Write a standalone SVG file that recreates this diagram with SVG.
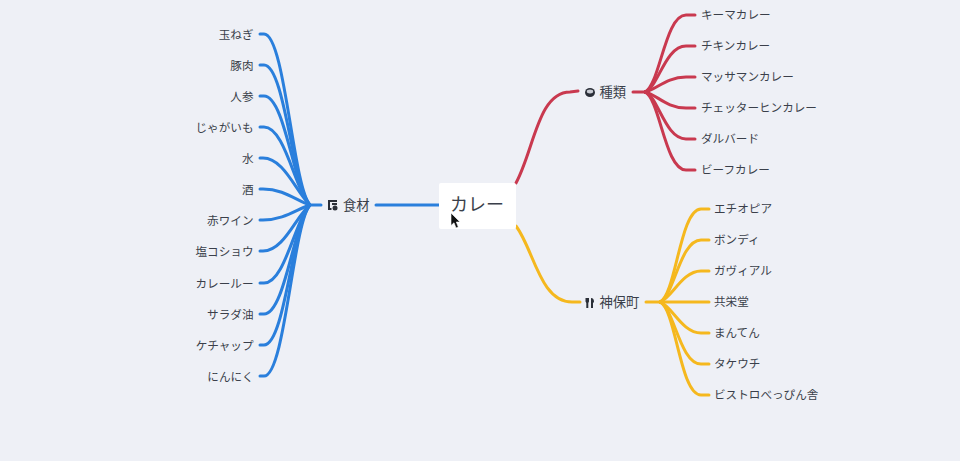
<svg xmlns="http://www.w3.org/2000/svg" width="960" height="461" viewBox="0 0 960 461">
<style>
text{font-family:"Noto Sans CJK JP","Noto Sans",sans-serif;fill:#3a3f4a}
.leaf{font-size:11.6px}
.l{text-anchor:end}
.branch{font-size:13.300px}
.c{fill:none;stroke-width:3;stroke-linecap:round}
.blue{stroke:#2a7fdc}
.red{stroke:#c9394f}
.yel{stroke:#f5b81e}
.ic{fill:#2b2f38}
</style>
<rect width="960" height="461" fill="#eef0f6"/>
<g id="connectors">
<g class="c blue">
<path d="M376 205H439"/>
<path d="M321 205H310"/>
<path d="M310 205C293 187 285 34 264 34H260"/>
<path d="M310 205C293 188 285 65 264 65H260"/>
<path d="M310 205C294 189 285 96 264 96H260"/>
<path d="M310 205C295 190 285 127 264 127H260"/>
<path d="M310 205C296 192 284 158 263 158H260"/>
<path d="M310 205C297 201 284 189 263 189H260"/>
<path d="M310 205C297 209 284 220 263 220H260"/>
<path d="M310 205C296 216 284 251 263 251H260"/>
<path d="M310 205C295 220 285 283 264 283H260"/>
<path d="M310 205C294 222 285 314 264 314H260"/>
<path d="M310 205C293 223 285 345 264 345H260"/>
<path d="M310 205C293 224 285 376 264 376H260"/>
</g>
<g class="c red">
<path d="M516 183C534 150 538 92 570 92L578 91"/>
<path d="M633 92H645"/>
<path d="M645 92C660 85 665 15 686 15H695"/>
<path d="M645 92C658 88 665 46 686 46H695"/>
<path d="M645 92C656 90 666 77 686 77H695"/>
<path d="M645 92C656 94 666 108 686 108H695"/>
<path d="M645 92C658 96 665 139 686 139H695"/>
<path d="M645 92C660 99 665 170 686 170H695"/>
</g>
<g class="c yel">
<path d="M516 226C534 250 540 302 572 302H580"/>
<path d="M646 302H660"/>
<path d="M660 302C676 295 680 209 701 209H709"/>
<path d="M660 302C674 296 680 240 701 240H709"/>
<path d="M660 302C672 298 682 271 701 271H709"/>
<path d="M660 302H709"/>
<path d="M660 302C672 306 682 333 701 333H709"/>
<path d="M660 302C674 308 680 364 701 364H709"/>
<path d="M660 302C676 309 680 395 701 395H709"/>
</g>
</g>
<g id="root"><rect x="439" y="183" width="77" height="46" rx="2" fill="#fff"/><text x="450" y="211" font-size="18">カレー</text></g>
<g id="n-shokuzai">
<path class="ic" d="M328 200h9v2h-7v6h1.500v2h-3.500z"/><rect class="ic" x="332" y="203" width="5" height="2"/><circle class="ic" cx="335" cy="208" r="2.500"/>
<text class="branch" x="343" y="210">食材</text></g>
<g id="n-shurui">
<ellipse cx="590" cy="92.500" rx="5" ry="4.600" class="ic"/><ellipse cx="590" cy="91.500" rx="3.200" ry="1.900" fill="#c9ccd4"/>
<text class="branch" x="599.500" y="97">種類</text></g>
<g id="n-jimbocho">
<path class="ic" d="M585.500 298h3.500v3.500l-.7 1.500v5h-2v-5l-.8-1.500zM591 298c2 0 3 1.500 3 4l-1 1v5h-2z"/>
<text class="branch" x="599.500" y="307">神保町</text></g>
<g id="l1"><text class="leaf l" x="253.500" y="38.500">玉ねぎ</text></g>
<g id="l2"><text class="leaf l" x="253.500" y="69.500">豚肉</text></g>
<g id="l3"><text class="leaf l" x="253.500" y="100.500">人参</text></g>
<g id="l4"><text class="leaf l" x="253.500" y="131.500">じゃがいも</text></g>
<g id="l5"><text class="leaf l" x="253.500" y="162.500">水</text></g>
<g id="l6"><text class="leaf l" x="253.500" y="193.500">酒</text></g>
<g id="l7"><text class="leaf l" x="253.500" y="224.500">赤ワイン</text></g>
<g id="l8"><text class="leaf l" x="253.500" y="255.500">塩コショウ</text></g>
<g id="l9"><text class="leaf l" x="253.500" y="287.500">カレールー</text></g>
<g id="l10"><text class="leaf l" x="253.500" y="318.500">サラダ油</text></g>
<g id="l11"><text class="leaf l" x="253.500" y="349.500">ケチャップ</text></g>
<g id="l12"><text class="leaf l" x="253.500" y="380.500">にんにく</text></g>
<g id="r1"><text class="leaf" x="701" y="19">キーマカレー</text></g>
<g id="r2"><text class="leaf" x="701" y="50">チキンカレー</text></g>
<g id="r3"><text class="leaf" x="701" y="81">マッサマンカレー</text></g>
<g id="r4"><text class="leaf" x="701" y="112">チェッターヒンカレー</text></g>
<g id="r5"><text class="leaf" x="701" y="143">ダルバード</text></g>
<g id="r6"><text class="leaf" x="701" y="174">ビーフカレー</text></g>
<g id="y1"><text class="leaf" x="714" y="213">エチオピア</text></g>
<g id="y2"><text class="leaf" x="714" y="244">ボンディ</text></g>
<g id="y3"><text class="leaf" x="714" y="275">ガヴィアル</text></g>
<g id="y4"><text class="leaf" x="714" y="306">共栄堂</text></g>
<g id="y5"><text class="leaf" x="714" y="337">まんてん</text></g>
<g id="y6"><text class="leaf" x="714" y="368">タケウチ</text></g>
<g id="y7"><text class="leaf" x="714" y="399">ビストロべっぴん舎</text></g>
<polygon points="451,213 451,225.500 454,222.800 456,228 458.300,227 456.300,222 460,222" fill="#111" stroke="#fff" stroke-width="0.600"/>
</svg>
